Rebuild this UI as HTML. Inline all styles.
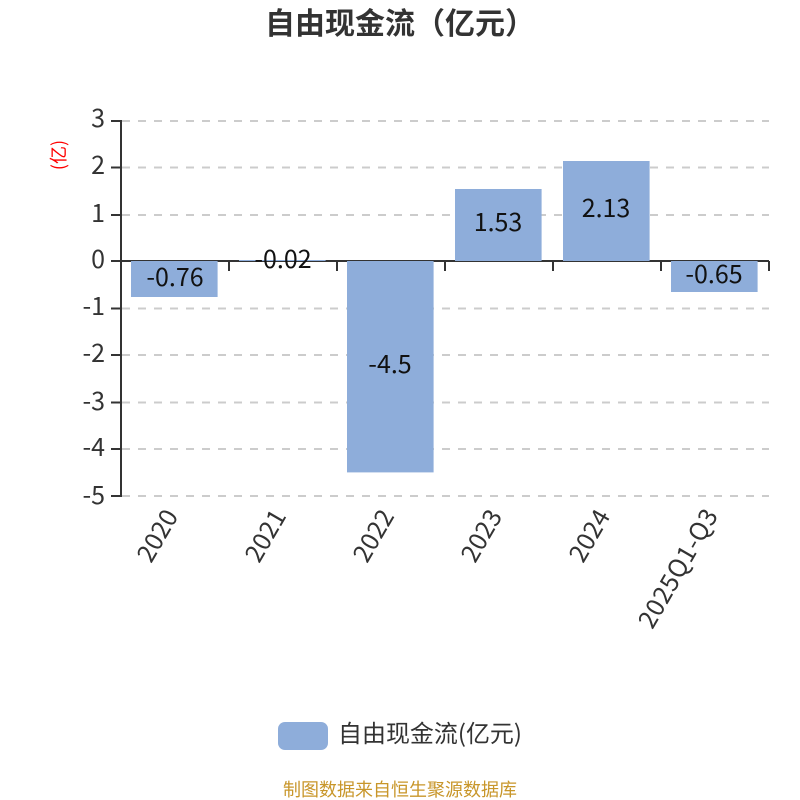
<!DOCTYPE html>
<html><head><meta charset="utf-8"><style>
html,body{margin:0;padding:0;background:#fff;width:800px;height:800px;overflow:hidden}
svg{display:block}
text{font-family:"Noto Sans CJK SC","Liberation Sans",sans-serif}
</style></head><body>
<svg width="800" height="800" viewBox="0 0 800 800" xmlns="http://www.w3.org/2000/svg">
<rect width="800" height="800" fill="#fff"/>
<text x="400" y="34" text-anchor="middle" font-size="30" font-weight="bold" fill="#333">自由现金流（亿元）</text>
<text transform="translate(65,155) rotate(-90)" text-anchor="middle" font-size="18" fill="#f00">(亿)</text>
<g stroke="#ccc" stroke-width="2" stroke-dasharray="8 8" fill="none">
<path d="M122 121H769M122 167.500H769M122 215H769M122 308.500H769M122 355H769M122 402.500H769M122 449H769M122 496H769"/>
</g>
<g stroke="#333" stroke-width="2" fill="none">
<path d="M121 120V497"/>
<path d="M111 121H121M111 167.500H121M111 215H121M111 261H121M111 308.500H121M111 355H121M111 402.500H121M111 449H121M111 496H121"/>
<path d="M121 261H769"/>
<path d="M229 261V271M337 261V271M445 261V271M553 261V271M661 261V271M769 261V271"/>
</g>
<g fill="#8eadda">
<rect x="131" y="261" width="86.600" height="36"/>
<rect x="239" y="260" width="86.600" height="1"/>
<rect x="347" y="261" width="86.600" height="211.400"/>
<rect x="455" y="189" width="86.600" height="72"/>
<rect x="563" y="161" width="86.600" height="100"/>
<rect x="671" y="261" width="86.600" height="31"/>
</g>
<g font-size="25" fill="#333" text-anchor="end">
<text x="105" y="127">3</text><text x="105" y="174">2</text><text x="105" y="222">1</text><text x="105" y="268">0</text>
<text x="105" y="315">-1</text><text x="105" y="362">-2</text><text x="105" y="410">-3</text><text x="105" y="456">-4</text><text x="105" y="504">-5</text>
</g>
<g font-size="25" fill="#111" text-anchor="middle">
<text x="175" y="286">-0.76</text>
<text x="283" y="268">-0.02</text>
<text x="390" y="373">-4.5</text>
<text x="498" y="231">1.53</text>
<text x="606" y="217">2.13</text>
<text x="714" y="283">-0.65</text>
</g>
<g font-size="25" fill="#333" text-anchor="end">
<text transform="translate(172,512) rotate(-60)" x="0" y="8">2020</text>
<text transform="translate(280,512) rotate(-60)" x="0" y="8">2021</text>
<text transform="translate(388,512) rotate(-60)" x="0" y="8">2022</text>
<text transform="translate(496,512) rotate(-60)" x="0" y="8">2023</text>
<text transform="translate(604,512) rotate(-60)" x="0" y="8">2024</text>
<text transform="translate(712,511) rotate(-60)" x="0" y="8" letter-spacing="0.45">2025Q1-Q3</text>
</g>
<rect x="278" y="722" width="50" height="28" rx="7" fill="#8eadda"/>
<text x="338" y="742" font-size="24" fill="#333" textLength="184" lengthAdjust="spacingAndGlyphs">自由现金流(亿元)</text>
<text x="400" y="796" text-anchor="middle" font-size="18" fill="#c8962a">制图数据来自恒生聚源数据库</text>
</svg>
</body></html>
